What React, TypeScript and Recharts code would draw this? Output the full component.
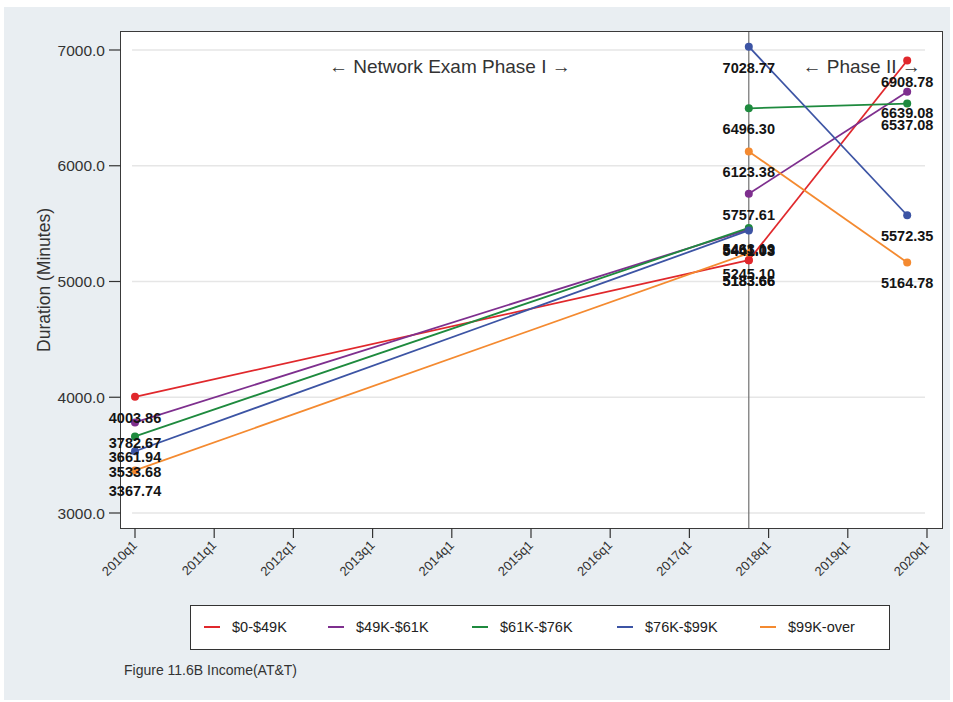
import React from 'react';
import { LineChart, Line, XAxis, YAxis, ReferenceLine, ReferenceDot, LabelList } from 'recharts';

// ---------- data ----------
const quarterTicks = ['2010q1', '2011q1', '2012q1', '2013q1', '2014q1', '2015q1', '2016q1', '2017q1', '2018q1', '2019q1', '2020q1'];
const periods = ['2010q1', '2017q4', '2019q4'];
const breakPeriod = '2017q4';
const groups = ['$0-$49K', '$49K-$61K', '$61K-$76K', '$76K-$99K', '$99K-over'];
const colors = ['#e0282c', '#7e2f8e', '#1e8a3e', '#3c54a4', '#f48a30'];
const phase1Start = [4003.86, 3782.67, 3661.94, 3533.68, 3367.74];
const phase1End = [5183.66, 5451.03, 5463.19, 5441.03, 5245.10];
const phase2Start = [5183.66, 5757.61, 6496.30, 7028.77, 6123.38];
const phase2End = [6908.78, 6639.08, 6537.08, 5572.35, 5164.78];
const yTicks = [3000, 4000, 5000, 6000, 7000];
const annotations = ['\u2190 Network Exam Phase I \u2192', '\u2190 Phase II \u2192'];
const annotationQuarters = [15.9, 36.7];
const annotationLevel = 6860;
const yTitle = 'Duration (Minutes)';
const caption = 'Figure 11.6B Income(AT&T)';

const qIndex = (s: string) => {
  const y = parseInt(s.slice(0, 4), 10);
  const q = parseInt(s.slice(5), 10);
  return (y - 2010) * 4 + (q - 1);
};

const series = groups.map((g, i) => ({
  name: g,
  color: colors[i],
  seg1: [
    { q: qIndex(periods[0]), y: phase1Start[i] },
    { q: qIndex(periods[1]), y: phase1End[i] },
  ],
  seg2: [
    { q: qIndex(periods[1]), y: phase2Start[i] },
    { q: qIndex(periods[2]), y: phase2End[i] },
  ],
}));

// ---------- layout ----------
const W = 953;
const H = 702;
const FONT = '"Liberation Sans", Arial, sans-serif';
const legendItemX = [204, 328, 472, 617, 760];

const renderLabel = (props: any) => {
  const x = props.x ?? props.viewBox?.x;
  const y = props.y ?? props.viewBox?.y;
  return (
    <text
      x={Number(x)}
      y={Number(y) + 26}
      textAnchor="middle"
      fontSize={14.5}
      fontWeight="bold"
      fontFamily={FONT}
      fill="#141414"
    >
      {Number(props.value).toFixed(2)}
    </text>
  );
};

const XTick = (props: any) => {
  const { x, y, payload } = props;
  const ax = x + 3;
  const ay = y + 6;
  return (
    <text
      x={ax}
      y={ay}
      transform={`rotate(-45 ${ax} ${ay})`}
      textAnchor="end"
      fontSize={13}
      fontFamily={FONT}
      fill="#333"
    >
      {quarterTicks[Math.round(payload.value / 4)]}
    </text>
  );
};

export default function App() {
  return (
    <div style={{ position: 'relative', width: W, height: H, background: '#fff', fontFamily: FONT }}>
      <style>{'body{margin:0}'}</style>
      <div style={{ position: 'absolute', left: 4, top: 7, width: 946, height: 693, background: '#e9eef2' }} />
      <div
        style={{
          position: 'absolute',
          left: 120,
          top: 31,
          width: 823,
          height: 498,
          boxSizing: 'border-box',
          background: '#fff',
          border: '1.5px solid #3a3a3a',
        }}
      />
      <div style={{ position: 'absolute', left: 0, top: 0 }}>
        <LineChart width={W} height={H} margin={{ top: 32, right: 11, bottom: 114, left: 61 }}>
          <XAxis
            type="number"
            dataKey="q"
            domain={[-0.707, 40.758]}
            allowDataOverflow
            ticks={quarterTicks.map(qIndex)}
            interval={0}
            tickSize={10}
            tickMargin={2}
            axisLine={false}
            tickLine={{ stroke: '#333', strokeWidth: 1.2 }}
            tick={<XTick />}
            height={60}
          />
          <YAxis
            type="number"
            dataKey="y"
            domain={[2870.4, 7155.5]}
            allowDataOverflow
            ticks={yTicks}
            tickFormatter={(v: number) => v.toFixed(1)}
            tickSize={12}
            tickMargin={4}
            axisLine={false}
            tickLine={{ stroke: '#333', strokeWidth: 1.2 }}
            tick={{ fill: '#333', fontSize: 15.5, fontFamily: FONT }}
            width={60}
            label={{
              content: (p: any) => {
                const vb = p.viewBox || { x: 61, y: 32, height: 496 };
                const cx = vb.x - 17;
                const cy = vb.y + vb.height / 2;
                return (
                  <text
                    x={cx}
                    y={cy}
                    transform={`rotate(-90 ${cx} ${cy})`}
                    textAnchor="middle"
                    dominantBaseline="central"
                    fontSize={17.5}
                    fontFamily={FONT}
                    fill="#333"
                  >
                    {yTitle}
                  </text>
                );
              },
            }}
          />
          {yTicks.map((v) => (
            <ReferenceLine
              key={`g${v}`}
              segment={[
                { x: -0.15, y: v },
                { x: 39.9, y: v },
              ]}
              stroke="#e6e6e6"
              strokeWidth={1.6}
            />
          ))}
          <ReferenceLine x={qIndex(breakPeriod)} stroke="#707070" strokeWidth={1.2} />
          {annotations.map((t, i) => (
            <ReferenceDot
              key={`a${i}`}
              x={annotationQuarters[i]}
              y={annotationLevel}
              r={0}
              fill="none"
              stroke="none"
              label={{ value: t, position: 'center', fontSize: 19, fill: '#333', fontFamily: FONT }}
            />
          ))}
          {series.map((s) => (
            <Line
              key={`${s.name}-1`}
              data={s.seg1}
              dataKey="y"
              type="linear"
              stroke={s.color}
              strokeWidth={1.8}
              dot={{ r: 4, fill: s.color, stroke: s.color, strokeWidth: 0 }}
              activeDot={false}
              isAnimationActive={false}
            >
              <LabelList dataKey="y" content={renderLabel} />
            </Line>
          ))}
          {series.map((s) => (
            <Line
              key={`${s.name}-2`}
              data={s.seg2}
              dataKey="y"
              type="linear"
              stroke={s.color}
              strokeWidth={1.8}
              dot={{ r: 4, fill: s.color, stroke: s.color, strokeWidth: 0 }}
              activeDot={false}
              isAnimationActive={false}
            >
              <LabelList dataKey="y" content={renderLabel} />
            </Line>
          ))}
        </LineChart>
      </div>
      <div
        style={{
          position: 'absolute',
          left: 190,
          top: 605,
          width: 700,
          height: 45,
          boxSizing: 'border-box',
          background: '#fff',
          border: '1.5px solid #333',
        }}
      />
      {series.map((s, i) => (
        <div
          key={`lg${i}`}
          style={{
            position: 'absolute',
            left: legendItemX[i],
            top: 619,
            height: 16,
            display: 'flex',
            alignItems: 'center',
            fontSize: 14.5,
            color: '#222',
            whiteSpace: 'nowrap',
          }}
        >
          <span style={{ display: 'inline-block', width: 16, height: 2.5, background: s.color, marginRight: 12 }} />
          <span>{s.name}</span>
        </div>
      ))}
      <div style={{ position: 'absolute', left: 124, top: 662, fontSize: 14, color: '#333' }}>{caption}</div>
    </div>
  );
}
